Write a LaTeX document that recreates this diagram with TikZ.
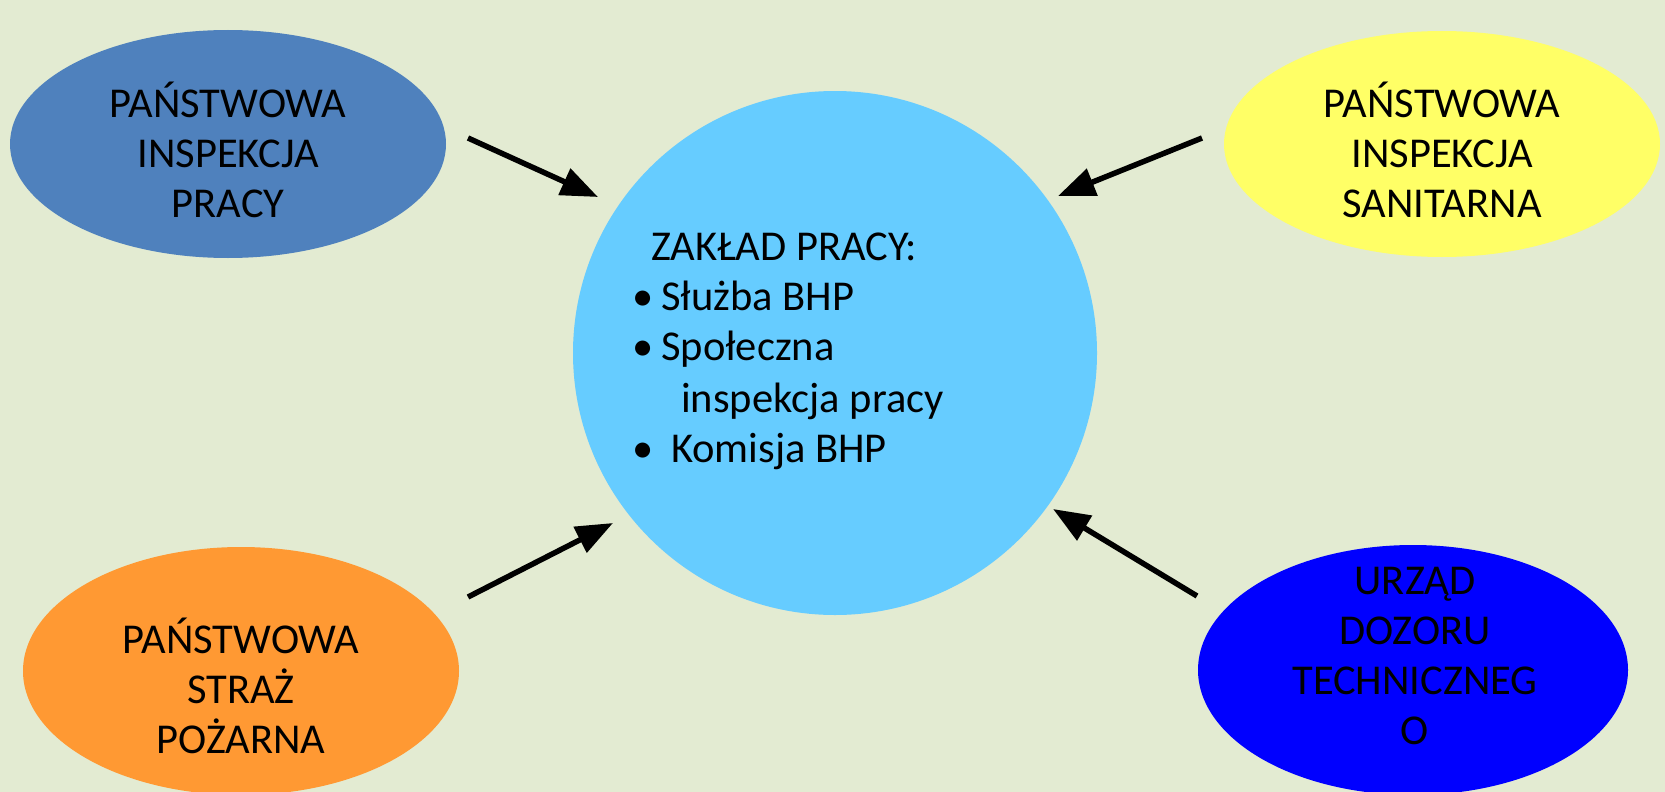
\documentclass[tikz,border=0pt]{standalone}
\usepackage{fontspec}
\setmainfont{Carlito}
\usetikzlibrary{shapes.geometric,arrows.meta}
\definecolor{bg}{HTML}{E3EBD2}
\definecolor{cblue}{HTML}{4F81BD}
\definecolor{cyellow}{HTML}{FFFF66}
\definecolor{corange}{HTML}{FF9933}
\definecolor{cdblue}{HTML}{0000FF}
\definecolor{ccyan}{HTML}{66CCFF}
\begin{document}
\begin{tikzpicture}[x=1pt,y=-1pt,
  ell/.style={ellipse, draw=none, inner sep=0pt},
  lbl/.style={align=center, font=\fontsize{42.5}{50}\selectfont, inner sep=0pt, text=black},
  txt/.style={anchor=base west, font=\fontsize{42.5}{50}\selectfont, inner sep=0pt, text=black},
  arr/.style={line width=5.5pt, -{Triangle[length=37pt,width=28pt]}}]
\fill[bg] (0,0) rectangle (1665,792);
\useasboundingbox (0,0) rectangle (1665,792);

\node[ell, fill=cblue, minimum width=436pt, minimum height=228pt] (pip) at (228,144) {};
\node[lbl] (piptxt) at (228,150) {PAŃSTWOWA\\INSPEKCJA\\PRACY};

\node[ell, fill=cyellow, minimum width=436pt, minimum height=226pt] (pis) at (1442,144) {};
\node[lbl] (pistxt) at (1442,150) {PAŃSTWOWA\\INSPEKCJA\\SANITARNA};

\node[ell, fill=corange, minimum width=436pt, minimum height=248pt] (psp) at (241,671) {};
\node[lbl] (psptxt) at (241,686) {PAŃSTWOWA\\STRAŻ\\POŻARNA};

\node[ell, fill=cdblue, minimum width=430pt, minimum height=250pt] (udt) at (1413,670) {};
\node[lbl] (udttxt) at (1415,656) {URZĄD\\DOZORU\\TECHNICZNEG\\O};

\node[circle, fill=ccyan, minimum size=524pt, inner sep=0pt] (zp) at (835,353) {};
\node[txt] (z1) at (651,260) {ZAKŁAD PRACY:};
\node[txt] (z2) at (632,310) {\makebox[29pt][l]{•}Służba BHP};
\node[txt] (z3) at (632,360) {\makebox[29pt][l]{•}Społeczna};
\node[txt] (z4) at (681,412) {inspekcja pracy};
\node[txt] (z5) at (632,462) {\makebox[39pt][l]{•}Komisja BHP};

\coordinate (a1s) at (468,138); \coordinate (a1e) at (598,197);
\coordinate (a2s) at (1202,138); \coordinate (a2e) at (1058,196);
\coordinate (a3s) at (468,597); \coordinate (a3e) at (613,523);
\coordinate (a4s) at (1197,596); \coordinate (a4e) at (1053,509);
\draw[arr] (a1s) -- (a1e);
\draw[arr] (a2s) -- (a2e);
\draw[arr] (a3s) -- (a3e);
\draw[arr] (a4s) -- (a4e);
\end{tikzpicture}
\end{document}
